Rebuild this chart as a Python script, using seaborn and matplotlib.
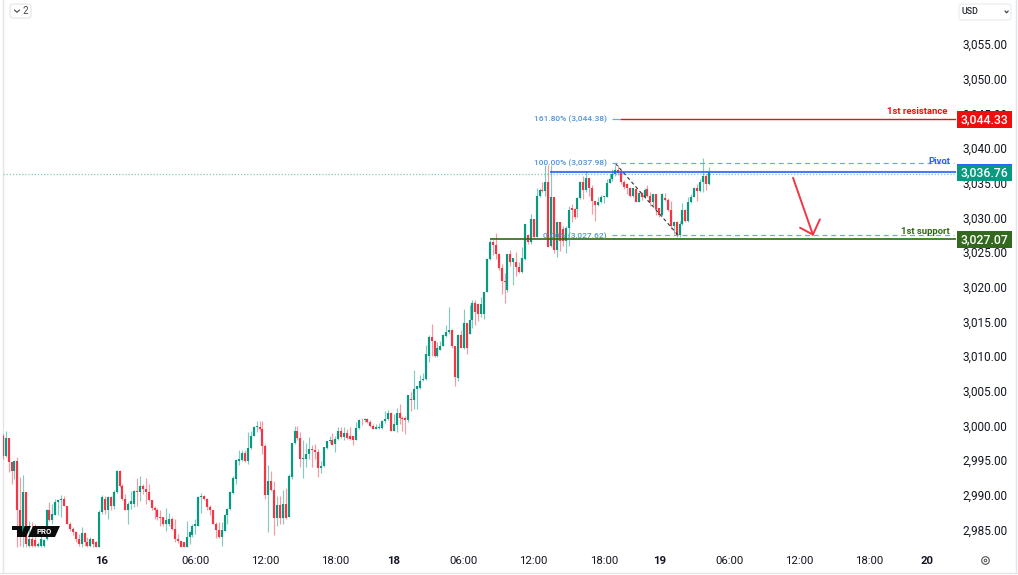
import matplotlib
matplotlib.use("Agg")
import matplotlib.pyplot as plt
from matplotlib.patches import Rectangle, FancyBboxPatch, Polygon, Circle
from matplotlib.transforms import Affine2D
import pandas as pd
import seaborn as sns

opens = [
2998.7,2995.8,2998.3,2994.9,2993.6,2995.1,2987.9,2984.5,2990.5,2982.7,
2983.8,2983.6,2982.7,2982.7,2982.7,2983.8,2987.9,2986.5,2987.3,2989.1,
2989.4,2989.5,2988.6,2986.0,2985.2,2984.8,2983.8,2983.0,2984.6,2983.3,
2982.8,2983.8,2983.3,2982.6,2987.7,2989.6,2987.9,2989.9,2988.6,2990.5,
2993.6,2991.5,2989.6,2988.0,2988.9,2988.9,2990.7,2990.5,2991.5,2991.0,
2990.5,2989.4,2988.3,2987.9,2986.9,2986.9,2985.9,2985.9,2986.7,2985.2,
2983.8,2983.5,2983.3,2982.6,2984.0,2984.3,2985.6,2985.7,2989.8,2990.0,
2989.6,2988.4,2987.9,2986.0,2985.1,2984.0,2985.0,2987.2,2988.1,2990.4,
2992.4,2995.1,2995.2,2996.2,2995.0,
2996.9,2998.7,3000.0,3000.0,2999.7,2997.2,2990.1,2992.2,2990.9,2986.8,
2988.7,2986.8,2988.8,2987.0,2992.7,2997.6,2999.3,2998.4,2995.3,2995.3,
2996.0,2996.7,2996.6,2996.3,2994.0,2994.3,2996.9,2997.9,2998.0,2997.5,
2998.2,2999.3,2998.5,2999.1,2998.7,2998.7,2998.0,2999.8,3001.0,3000.9,
3001.1,3000.6,3000.1,2999.7,2999.8,2999.8,3000.8,3001.1,3002.0,2999.3,
3000.3,3002.0,3001.3,3001.3,3000.9,3004.0,3003.8,3005.4,3005.6,3006.7,
3006.9,3010.2,3013.0,3012.3,3010.2,3011.1,3011.7,3013.1,3013.6,3014.0,
3011.6,3007.0,3013.2,3011.4,3014.9,3013.4,3015.4,
3017.9,3017.7,3016.3,
3016.3,3019.4,3024.2,3026.6,3026.2,3024.9,3022.9,3021.0,3019.7,3024.9,
3023.7,3023.7,3023.1,3022.3,3024.2,3027.7,3026.6,3030.0,3027.4,3033.3,
3034.2,3034.0,3035.3,3026.1,3033.1,3025.5,3029.5,3028.5,3026.8,3028.7,
3031.6,3031.4,3031.4,3033.0,3035.3,3034.1,3035.9,3034.5,3032.5,3032.0,
3032.4,3033.2,3033.2,3035.1,3035.7,3036.4,3037.0,3036.9,3035.3,3035.0,
3034.4,3033.3,3034.3,3032.4,3033.7,3033.1,3034.3,3033.3,3032.4,3033.5,
3031.5,3030.6,3033.0,3032.7,3031.3,3028.9,3029.5,3027.6,3029.3,3031.2,
3029.6,3032.4,3033.2,3034.5,3034.0,3035.3,3036.1,3035.0,
]

highs = [
2998.9,2999.3,2998.3,2994.9,2995.2,2995.6,2992.7,2993.0,2990.5,2986.4,
2986.2,2986.0,2983.3,2984.5,2983.8,2988.1,2989.1,2988.9,2989.6,2989.6,
2990.1,2990.0,2988.6,2986.2,2985.5,2985.0,2984.5,2985.5,2984.8,2984.1,
2984.0,2983.8,2983.5,2987.9,2990.2,2990.0,2990.0,2990.0,2990.8,2993.7,
2993.7,2991.7,2990.3,2989.1,2990.7,2990.8,2992.6,2992.8,2991.7,2992.6,
2991.7,2989.4,2988.6,2988.3,2987.9,2987.0,2988.3,2987.6,2986.9,2986.7,
2984.5,2983.5,2983.3,2986.4,2985.0,2986.0,2986.7,2990.0,2990.4,2990.2,
2989.7,2988.7,2988.0,2986.2,2986.3,2986.2,2987.4,2988.3,2990.7,2992.8,
2995.3,2996.6,2996.6,2996.6,2999.2,
2999.3,3000.1,3000.8,3000.8,3000.8,2997.5,2994.4,2993.6,2992.2,2990.0,
2990.0,2990.8,2991.2,2993.2,2997.7,3000.1,3000.1,2999.2,2998.0,2997.7,
2998.5,2997.4,2997.5,2996.8,2995.1,2997.0,2997.9,2998.6,2999.1,2998.7,
3000.0,3000.0,3000.0,2999.7,3000.0,2998.7,3000.6,3001.1,3001.3,3001.3,
3001.3,3001.0,3000.4,3000.4,3000.5,3000.9,3002.3,3002.4,3002.1,3001.8,
3002.7,3003.2,3001.6,3001.6,3004.6,3005.0,3008.1,3005.9,3007.4,3007.7,
3011.8,3013.2,3014.8,3012.5,3012.2,3012.3,3013.4,3014.7,3017.2,3014.1,
3011.7,3013.4,3014.0,3017.0,3014.9,3017.6,3018.2,
3018.2,3017.9,3018.7,
3019.4,3024.3,3026.9,3026.9,3028.0,3025.0,3023.5,3022.1,3024.9,3025.5,
3024.4,3025.2,3023.7,3025.9,3029.3,3027.8,3030.7,3030.0,3034.4,3034.4,
3035.3,3037.7,3037.7,3037.7,3033.1,3029.5,3029.5,3029.0,3029.0,3031.9,
3032.1,3031.6,3033.1,3035.4,3036.2,3036.9,3035.9,3034.8,3032.6,3033.2,
3033.4,3033.3,3035.7,3036.5,3037.2,3037.8,3037.8,3037.0,3035.6,3035.2,
3034.6,3034.4,3034.4,3033.8,3033.8,3034.4,3034.9,3033.8,3033.5,3033.6,
3031.6,3033.7,3033.7,3033.0,3032.6,3029.6,3029.6,3029.6,3032.2,3031.4,
3033.1,3033.6,3034.6,3035.0,3035.7,3038.8,3036.5,3037.4,
]

lows = [
2995.3,2995.6,2993.4,2991.7,2992.4,2982.6,2982.8,2982.6,2982.6,2982.6,
2982.6,2982.6,2982.6,2982.6,2982.6,2983.6,2986.4,2986.0,2987.2,2987.2,
2986.9,2988.5,2985.9,2985.0,2984.3,2983.3,2982.8,2982.6,2982.8,2982.6,
2982.6,2982.6,2982.6,2982.6,2987.4,2987.4,2986.7,2988.0,2988.1,2990.4,
2991.3,2989.4,2987.9,2986.0,2988.1,2988.4,2988.5,2989.3,2990.3,2988.9,
2989.3,2987.9,2986.7,2986.5,2985.7,2985.6,2985.0,2985.7,2985.1,2983.3,
2983.2,2982.6,2982.6,2982.6,2983.0,2984.0,2984.5,2985.7,2987.6,2989.4,
2988.0,2987.2,2985.9,2983.9,2983.9,2982.7,2984.9,2986.0,2988.0,2990.3,
2991.7,2994.4,2995.1,2994.9,2994.6,
2996.8,2998.6,2999.2,2999.4,2996.1,2989.5,2984.8,2990.7,2984.4,2985.7,
2985.9,2985.9,2986.7,2987.0,2992.4,2997.5,2998.0,2994.1,2992.6,2994.1,
2995.3,2994.1,2995.3,2992.7,2993.3,2994.1,2996.8,2997.7,2997.4,2996.4,
2998.1,2998.4,2998.1,2998.2,2998.1,2997.3,2998.0,2999.7,3000.3,3000.6,
3000.5,3000.0,2999.7,2999.7,2999.7,2999.7,3000.5,3001.0,2999.3,2999.3,
2999.2,3000.4,2999.3,2999.0,3000.6,3002.3,3002.5,3002.5,3005.4,3006.6,
3006.7,3009.3,3010.2,3010.0,3010.1,3011.0,3011.6,3013.0,3013.4,3011.4,
3005.8,3006.6,3011.3,3011.2,3010.5,3013.3,3014.3,
3014.6,3015.3,3015.8,
3015.5,3019.4,3024.0,3024.8,3024.2,3022.6,3019.2,3017.9,3019.4,3023.2,
3020.4,3021.8,3022.1,3022.1,3024.1,3026.4,3026.4,3027.1,3027.4,3033.2,
3033.8,3033.3,3025.9,3025.9,3025.0,3024.5,3025.4,3026.1,3025.0,3026.1,
3029.5,3030.0,3030.2,3032.8,3032.9,3033.8,3033.3,3030.7,3029.6,3031.9,
3032.2,3032.2,3033.1,3035.1,3035.5,3036.2,3036.3,3035.0,3034.3,3033.6,
3033.2,3033.2,3032.4,3032.4,3032.7,3033.0,3033.1,3031.9,3031.9,3030.5,
3030.2,3030.4,3032.6,3031.1,3028.5,3027.8,3027.4,3027.3,3029.1,3029.5,
3029.5,3032.2,3033.1,3032.6,3033.8,3033.8,3034.2,3034.8,
]

closes = [
2995.8,2998.3,2994.9,2993.6,2995.1,2987.9,2984.5,2990.5,2983.1,2983.8,
2982.7,2982.7,2983.0,2983.8,2983.6,2988.0,2986.5,2987.4,2989.1,2989.4,
2989.5,2988.6,2986.0,2985.2,2984.8,2983.8,2983.0,2984.6,2983.3,2982.8,
2983.8,2983.0,2982.6,2987.7,2989.8,2987.9,2989.9,2988.6,2990.5,2993.6,
2991.5,2989.6,2988.0,2988.9,2989.3,2990.7,2990.5,2991.5,2991.0,2990.5,
2989.4,2988.3,2987.9,2986.9,2986.8,2985.9,2986.5,2986.7,2985.2,2983.8,
2983.5,2982.6,2982.6,2984.0,2984.8,2985.7,2985.9,2989.9,2990.0,2989.6,
2988.4,2987.9,2986.0,2985.1,2984.0,2985.1,2987.3,2988.1,2990.5,2992.6,
2995.2,2995.3,2996.2,2995.0,2996.9,
2998.7,3000.0,3000.1,2999.7,2997.2,2990.1,2992.2,2990.8,2986.8,2988.7,
2986.8,2988.8,2986.8,2992.8,2997.6,2999.3,2998.4,2995.3,2995.4,2996.0,
2996.7,2996.6,2996.3,2994.0,2994.3,2997.0,2997.9,2998.0,2997.4,2998.2,
2999.3,2998.5,2999.1,2998.4,2998.2,2998.0,2999.8,3001.0,3000.9,3001.1,
3000.6,3000.1,2999.7,2999.9,2999.9,3000.8,3001.1,3002.0,2999.3,3000.4,
3002.0,3001.3,3001.1,3000.9,3004.6,3003.8,3005.4,3005.8,3006.6,3006.9,
3010.5,3013.0,3012.3,3010.2,3011.3,3011.6,3013.2,3013.6,3014.0,3011.6,
3007.1,3013.2,3011.4,3014.9,3011.4,3015.4,3017.9,
3016.5,3016.3,3017.7,
3019.4,3024.2,3026.7,3026.2,3024.9,3022.9,3021.0,3020.8,3024.9,3023.7,
3024.3,3023.1,3022.3,3024.3,3029.2,3026.6,3030.0,3027.4,3033.3,3034.2,
3034.0,3035.3,3025.9,3033.1,3025.5,3029.5,3026.8,3026.8,3028.7,3031.3,
3031.3,3030.2,3033.0,3035.3,3034.1,3035.9,3034.5,3032.5,3032.0,3032.4,
3033.2,3033.3,3035.1,3035.7,3036.4,3037.0,3036.6,3035.3,3034.6,3034.4,
3033.3,3034.4,3032.4,3033.7,3033.1,3034.2,3033.3,3032.4,3033.5,3031.4,
3030.5,3033.6,3032.7,3031.2,3028.9,3029.5,3027.6,3029.3,3031.2,3029.6,
3032.4,3033.2,3034.5,3034.0,3035.3,3036.1,3035.0,3036.7,
]

price_ticks = [2985, 2990, 2995, 3000, 3005, 3010, 3015, 3020, 3025, 3030, 3035, 3040, 3045, 3050, 3055]
price_labels = ["2,985.00", "2,990.00", "2,995.00", "3,000.00", "3,005.00", "3,010.00", "3,015.00", "3,020.00",
                "3,025.00", "3,030.00", "3,035.00", "3,040.00", "3,045.00", "3,050.00", "3,055.00"]
time_ticks = [34, 66, 90, 114, 134, 158, 182, 206, 225, 249, 273, 297, 317]
time_labels = ["16", "06:00", "12:00", "18:00", "18", "06:00", "12:00", "18:00", "19", "06:00", "12:00", "18:00", "20"]
bold_labels = ["16", "18", "19", "20"]

resistance, pivot, support = 3044.33, 3036.76, 3027.07
fib_high, fib_low, fib_ext = 3037.98, 3027.62, 3044.38

assert len(opens) == len(highs) == len(lows) == len(closes), (len(opens), len(highs), len(lows), len(closes))

UP, DOWN = "#089981", "#F23645"
BLUE, FIB = "#2962FF", "#4F93D8"
TEXT = "#131722"
W, H = 1018, 575

sns.set_theme(style="white")
plt.rcParams["font.family"] = ["Roboto", "DejaVu Sans"]
fig = plt.figure(figsize=(W / 100, H / 100), dpi=100, facecolor="white")
ax = fig.add_axes([3 / W, 1 - 548 / H, (956 - 3) / W, 548 / H])
PX = Affine2D().scale(1, -1).translate(0, H)

# candles ---------------------------------------------------------------
n = len(closes)
wick_rows, body_rows = [], []
for i in range(n):
    d = "up" if closes[i] >= opens[i] else "down"
    wick_rows += [(i, lows[i], d), (i, highs[i], d)]
    body_rows += [(i, opens[i], d), (i, closes[i], d)]
wicks = pd.DataFrame(wick_rows, columns=["i", "price", "dir"])
bodies = pd.DataFrame(body_rows, columns=["i", "price", "dir"])
pal = {"up": UP, "down": DOWN}
sns.lineplot(data=wicks, x="i", y="price", hue="dir", units="i", estimator=None, errorbar=None, sort=False,
             palette=pal, lw=0.85, alpha=0.5, legend=False, ax=ax, solid_capstyle="butt", zorder=3)
sns.lineplot(data=bodies, x="i", y="price", hue="dir", units="i", estimator=None, errorbar=None, sort=False,
             palette=pal, lw=1.55, legend=False, ax=ax, solid_capstyle="butt", zorder=3.1)

ax.set_xlim(0.06, 0.06 + 953 / 2.917)
ax.set_ylim(3000 - 121.4 / 6.93, 3000 + 426.6 / 6.93)
ax.set_xlabel("")
ax.set_ylabel("")
sns.despine(ax=ax, left=True, bottom=True, right=True, top=True)
ax.yaxis.tick_right()
ax.set_yticks(price_ticks, price_labels, fontsize=8.5, color=TEXT)
ax.set_xticks(time_ticks, time_labels, fontsize=8.2, color=TEXT)
ax.tick_params(axis="both", length=0)
ax.tick_params(axis="y", pad=4.8)
ax.tick_params(axis="x", pad=6)
for t in ax.get_xticklabels():
    if t.get_text() in bold_labels:
        t.set_fontweight("bold")
for tick in ax.yaxis.get_major_ticks():
    tick.label2.set_transform(tick.label2.get_transform() + Affine2D().translate(0, 1.2))

# levels ----------------------------------------------------------------
ax.hlines(pivot - 0.25, 0, 327, color="#7FCDBB", lw=0.9, ls=(0, (1, 1.5)), zorder=2)
ax.hlines(resistance, 211.5, 327, color="#F20D0D", lw=1.0, zorder=4)
ax.hlines(pivot, 187.5, 327, color=BLUE, lw=1.5, alpha=0.85, zorder=4)
ax.hlines(support, 167, 327, color="#2E6B12", lw=1.2, zorder=4)
ax.hlines(fib_high, 209, 326, color="#6FA8E8", lw=0.9, ls=(0, (4, 3)), zorder=4.5)
ax.hlines(fib_low, 209, 326, color="#6FA8E8", lw=0.9, ls=(0, (4, 3)), zorder=4.5)
ax.hlines(fib_ext, 209, 211.5, color="#6FA8E8", lw=0.9, zorder=4)
ax.plot([210, 231.5], [fib_high, fib_low], color="#333333", lw=0.8, ls=(0, (3, 2.5)), zorder=4)
# arrow
ax.plot([270.9, 277.7], [3035.9, 3027.7], color=DOWN, lw=1.4, zorder=5, solid_capstyle="round")
ax.plot([273.3, 277.7, 280.1], [3028.7, 3027.7, 3029.9], color=DOWN, lw=1.4, zorder=5, solid_capstyle="round")

# fib and level texts ---------------------------------------------------
def txt(x, y, s, **kw):
    kw.setdefault("va", "center")
    kw.setdefault("ha", "left")
    kw.setdefault("zorder", 8)
    return ax.text(x, y, s, transform=PX, clip_on=False, **kw)

txt(607, 119, "161.80% (3,044.38)", ha="right", fontsize=6.0, color=FIB, fontweight="medium")
txt(607, 163, "100.00% (3,037.98)", ha="right", fontsize=6.0, color=FIB, fontweight="medium")
txt(607, 236, "0.00% (3,027.62)", ha="right", fontsize=6.0, color=FIB, fontweight="medium")
txt(947, 112, "1st resistance", ha="right", fontsize=6.8, color="#F20D0D", fontweight="bold")
txt(950, 162, "Pivot", ha="right", fontsize=6.8, color=BLUE, fontweight="bold")
txt(950, 231, "1st support", ha="right", fontsize=6.8, color="#2E6B12", fontweight="bold")

# price tags -----------------------------------------------------------
for y0, col, label in [(111, "#F20D0D", "3,044.33"), (164, UP, "3,036.76"), (231, "#33691E", "3,027.07")]:
    ax.add_patch(Rectangle((957, y0), 55, 17, transform=PX, color=col, clip_on=False, zorder=6, lw=0))
    txt(984.5, y0 + 8.7, label, ha="center", fontsize=8.8, color="white", fontweight="medium")
ax.add_patch(Rectangle((957, 164), 55, 1.4, transform=PX, color=BLUE, clip_on=False, zorder=7, lw=0))

# TV PRO logo ----------------------------------------------------------
ax.add_patch(Polygon([(33, 526), (60, 526), (55, 537), (28, 537)], closed=True, transform=PX, color="#0B0B0B", clip_on=False, zorder=7, lw=0))
ax.add_patch(Polygon([(12, 526), (22, 526), (22, 537), (17, 537), (17, 530), (12, 530)], closed=True, transform=PX, color="#0B0B0B", clip_on=False, zorder=7, lw=0))
ax.add_patch(Polygon([(24.5, 526), (31, 526), (26, 537), (20, 537)], closed=True, transform=PX, color="#0B0B0B", clip_on=False, zorder=7, lw=0))
txt(44.5, 531.7, "PRO", ha="center", fontsize=5.6, color="white", fontweight="bold")

# chrome ---------------------------------------------------------------
ax.add_patch(FancyBboxPatch((10, 4), 21, 14, boxstyle="round,pad=0,rounding_size=3", transform=PX, fc="white", ec="#E6E7EA", lw=0.9, clip_on=False, zorder=8))
ax.plot([14.5, 17, 19.5], [10, 12.3, 10], transform=PX, color="#555", lw=0.9, clip_on=False, zorder=9)
txt(25, 11, "2", ha="center", fontsize=7, color="#444")
ax.add_patch(FancyBboxPatch((959, 4), 52, 16, boxstyle="round,pad=0,rounding_size=3", transform=PX, fc="white", ec="#ECEDF0", lw=0.9, clip_on=False, zorder=8))
txt(962, 12, "USD", fontsize=6.4, color="#20242E", fontweight="medium")
ax.plot([1005, 1006.6, 1008.2], [11, 12.8, 11], transform=PX, color="#444", lw=0.9, clip_on=False, zorder=9)
ax.add_patch(Circle((985.5, 560.5), 3.8, transform=PX, fc="none", ec="#555", lw=0.8, clip_on=False, zorder=9))
ax.add_patch(Circle((985.5, 560.5), 1.3, transform=PX, fc="none", ec="#555", lw=0.7, clip_on=False, zorder=9))
ax.plot([2.5, 2.5], [0, 572], transform=PX, color="#E4E5E8", lw=1, clip_on=False, zorder=1)
ax.plot([0, 1018], [572.5, 572.5], transform=PX, color="#E4E5E8", lw=1, clip_on=False, zorder=1)
ax.plot([1015.5, 1015.5], [0, 572], transform=PX, color="#E4E5E8", lw=1, clip_on=False, zorder=1)

fig.savefig("out.png", dpi=100, facecolor="white")
